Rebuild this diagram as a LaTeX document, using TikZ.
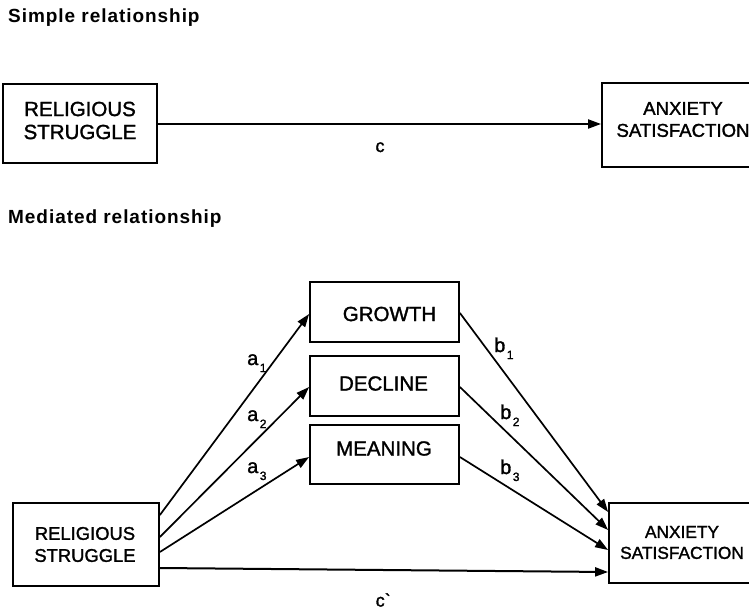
\documentclass[tikz,border=0pt]{standalone}
\usepackage{fontspec}
\setmainfont{Liberation Sans}[FakeBold=1.5]
\newfontfamily\titlefont{Liberation Sans}[LetterSpace=5]
\usetikzlibrary{arrows.meta}
\begin{document}
\begin{tikzpicture}[x=1pt,y=-1pt,
  box/.style={draw, rectangle, line width=1.8pt, inner sep=0pt},
  txt/.style={align=center, inner sep=0pt},
  arr/.style={-{Triangle[length=13pt,width=9pt]}, line width=1.7pt},
  harr/.style={arr, line width=2pt},
  lab/.style={inner sep=0pt, anchor=base west, font=\fontsize{20}{20}\selectfont},
  ttl/.style={inner sep=0pt, anchor=base west, font=\titlefont\bfseries\fontsize{19}{19}\selectfont}]
\useasboundingbox (0,0) rectangle (749,610);

% titles
\node[ttl] (t1) at (8,23) {Simple relationship};
\node[ttl] (t2) at (8,223) {Mediated relationship};

% simple relationship
\node[box, minimum width=154pt, minimum height=79pt] (rs1) at (80,123.5) {};
\node[txt, font=\fontsize{20.5}{23}\selectfont] (rs1t) at (80,120.5) {RELIGIOUS\\STRUGGLE};
\node[box, minimum width=158pt, minimum height=84pt] (as1) at (681,125) {};
\node[txt, font=\fontsize{18.6}{22}\selectfont] (as1t) at (683,119.5) {ANXIETY\\SATISFACTION};
\draw[harr] ([yshift=-0.5pt]rs1.east) -- ([yshift=-0.5pt]rs1.east -| as1.west);
\node[inner sep=0pt, anchor=base, font=\fontsize{18}{18}\selectfont] (c) at (380,152) {c};

% mediated relationship
\node[box, minimum width=146pt, minimum height=83pt] (rs2) at (86,544.5) {};
\node[txt, font=\fontsize{18.4}{22}\selectfont] (rs2t) at (85,544.5) {RELIGIOUS\\STRUGGLE};
\node[box, minimum width=146pt, minimum height=80pt] (as2) at (682,543) {};
\node[txt, font=\fontsize{17.3}{21}\selectfont] (as2t) at (682,542.5) {ANXIETY\\SATISFACTION};

\node[box, minimum width=149pt, minimum height=60pt] (gr) at (384.5,312) {};
\node[txt, font=\fontsize{20.5}{20}\selectfont] (grt) at (389.5,314) {GROWTH};
\node[box, minimum width=149pt, minimum height=60pt] (de) at (384.5,386) {};
\node[txt, font=\fontsize{20.5}{20}\selectfont] (det) at (383.5,383.5) {DECLINE};
\node[box, minimum width=149pt, minimum height=59pt] (me) at (384.5,454.5) {};
\node[txt, font=\fontsize{20.5}{20}\selectfont] (met) at (384,448.5) {MEANING};

% a paths
\draw[arr] ([yshift=29.5pt]rs2.east) -- ([yshift=-2pt]gr.west);
\draw[arr] ([yshift=7.5pt]rs2.east) -- ([yshift=-1pt]de.west);
\draw[arr] ([yshift=-7.5pt]rs2.east) -- ([yshift=-2.5pt]me.west);
% b paths
\draw[arr] ([yshift=-1pt]gr.east) -- ([yshift=31pt]as2.west);
\draw[arr] ([yshift=-1pt]de.east) -- ([yshift=13pt]as2.west);
\draw[arr] ([yshift=-2.5pt]me.east) -- ([yshift=-7pt]as2.west);
% c'
\draw[harr] ([yshift=-23.5pt]rs2.east) -- ([yshift=-29pt]as2.west);

% labels
\newcommand{\sublab}[2]{#1\hspace{1.5pt}\raisebox{-7pt}{\fontsize{12}{12}\selectfont #2}}
\node[lab] (a1) at (247,365) {\sublab{a}{1}};
\node[lab] (a2) at (247,421) {\sublab{a}{2}};
\node[lab] (a3) at (247,473) {\sublab{a}{3}};
\node[lab] (b1) at (494,352) {\sublab{b}{1}};
\node[lab] (b2) at (500,419) {\sublab{b}{2}};
\node[lab] (b3) at (500,474) {\sublab{b}{3}};
\node[inner sep=0pt, anchor=base west, font=\fontsize{18}{18}\selectfont] (cp) at (375.5,606.5) {c{\addfontfeature{Ligatures=TeXOff}`}};
\end{tikzpicture}
\end{document}
